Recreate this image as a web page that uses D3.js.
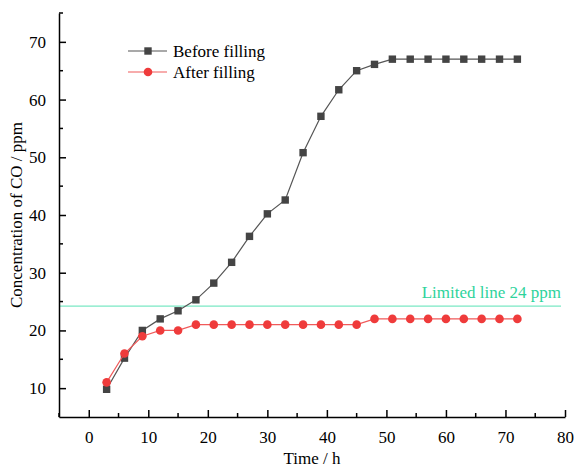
<!DOCTYPE html>
<html><head><meta charset="utf-8">
<script src="https://cdn.jsdelivr.net/npm/d3@7"></script>
<style>body{margin:0;background:#fff}svg{display:block}svg text{font-family:'Liberation Serif','Times New Roman',Times,'DejaVu Serif',serif !important}</style>
</head><body><svg id="c" width="574" height="471"></svg>
<script>
const times = [3,6,9,12,15,18,21,24,27,30,33,36,39,42,45,48,51,54,57,60,63,66,69,72];
const before = [9.8,15.2,20,22,23.4,25.3,28.2,31.8,36.3,40.2,42.6,50.8,57.1,61.7,65,66.1,67,67,67,67,67,67,67,67];
const after = [11,16,19,20,20,21,21,21,21,21,21,21,21,21,21,22,22,22,22,22,22,22,22,22];
const seriesNames = ["Before filling","After filling"];
const limitValue = 24.2;
const limitLabel = "Limited line 24 ppm";
const xTicks = [0,10,20,30,40,50,60,70,80];
const yTicks = [10,20,30,40,50,60,70];

const FONT = "'Liberation Serif','Times New Roman',Times,'DejaVu Serif',serif";
const FS = 17;
const svg = d3.select("#c");
const x = d3.scaleLinear().domain([-5,80]).range([59,565]);
const y = d3.scaleLinear().domain([5,75]).range([417,13]);

// limit line
svg.append("line").attr("x1",x(-5)).attr("x2",561).attr("y1",y(limitValue)).attr("y2",y(limitValue))
  .attr("stroke","#7be8c4").attr("stroke-width",1.2);
svg.append("text").attr("x",561).attr("y",y(limitValue)-8).attr("text-anchor","end")
  .attr("font-size",FS).attr("fill","#2ed39c").text(limitLabel);

// axes
const xAxis = d3.axisBottom(x).tickValues(xTicks).tickSizeInner(-7).tickSizeOuter(0).tickPadding(14);
const gx = svg.append("g").attr("transform",`translate(0,417)`).call(xAxis);
const yAxis = d3.axisLeft(y).tickValues(yTicks).tickSizeInner(-7).tickSizeOuter(0).tickPadding(13);
const gy = svg.append("g").attr("transform",`translate(59,0)`).call(yAxis);
[gx,gy].forEach(g=>{
  g.attr("font-family",FONT).attr("font-size",FS);
  g.select(".domain").attr("stroke","#000").attr("stroke-width",1.5);
  g.selectAll(".tick line").attr("stroke","#000").attr("stroke-width",1.5);
  g.selectAll(".tick text").attr("fill","#000");
});
// minor ticks
const xMinor = [-5,5,15,25,35,45,55,65,75];
svg.append("g").selectAll("line").data(xMinor).join("line")
  .attr("x1",d=>x(d)).attr("x2",d=>x(d)).attr("y1",417).attr("y2",413).attr("stroke","#000").attr("stroke-width",1.5);
const yMinor = [15,25,35,45,55,65,75];
svg.append("g").selectAll("line").data(yMinor).join("line")
  .attr("y1",d=>y(d)).attr("y2",d=>y(d)).attr("x1",59).attr("x2",63).attr("stroke","#000").attr("stroke-width",1.5);

// axis titles
svg.append("text").attr("x",x(37.5)).attr("y",464).attr("text-anchor","middle").attr("font-size",FS).text("Time / h");
svg.append("text").attr("transform",`translate(22,${y(40)}) rotate(-90)`).attr("text-anchor","middle")
  .attr("font-size",FS).text("Concentration of CO / ppm");

const line = d3.line().x(d=>x(d[0])).y(d=>y(d[1]));
const bData = times.map((t,i)=>[t,before[i]]);
const aData = times.map((t,i)=>[t,after[i]]);

svg.append("path").datum(bData).attr("d",line).attr("fill","none").attr("stroke","#555").attr("stroke-width",1.2);
svg.append("g").selectAll("rect").data(bData).join("rect")
  .attr("x",d=>x(d[0])-3.7).attr("y",d=>y(d[1])-3.7).attr("width",7.4).attr("height",7.4).attr("fill","#444");

svg.append("path").datum(aData).attr("d",line).attr("fill","none").attr("stroke","#f05a5a").attr("stroke-width",1.2);
svg.append("g").selectAll("circle").data(aData).join("circle")
  .attr("cx",d=>x(d[0])).attr("cy",d=>y(d[1])).attr("r",4.3).attr("fill","#ef3b3b");

// legend
const lg = svg.append("g");
const legY = [51,72];
lg.append("line").attr("x1",128).attr("x2",167).attr("y1",legY[0]).attr("y2",legY[0]).attr("stroke","#555").attr("stroke-width",1.2);
lg.append("rect").attr("x",148-3.7).attr("y",legY[0]-3.7).attr("width",7.4).attr("height",7.4).attr("fill","#444");
lg.append("line").attr("x1",128).attr("x2",167).attr("y1",legY[1]).attr("y2",legY[1]).attr("stroke","#f05a5a").attr("stroke-width",1.2);
lg.append("circle").attr("cx",148).attr("cy",legY[1]).attr("r",4.3).attr("fill","#ef3b3b");
lg.selectAll("text").data(seriesNames).join("text").attr("x",173).attr("y",(d,i)=>legY[i]+5.5)
  .attr("font-size",FS).text(d=>d);
</script></body></html>
